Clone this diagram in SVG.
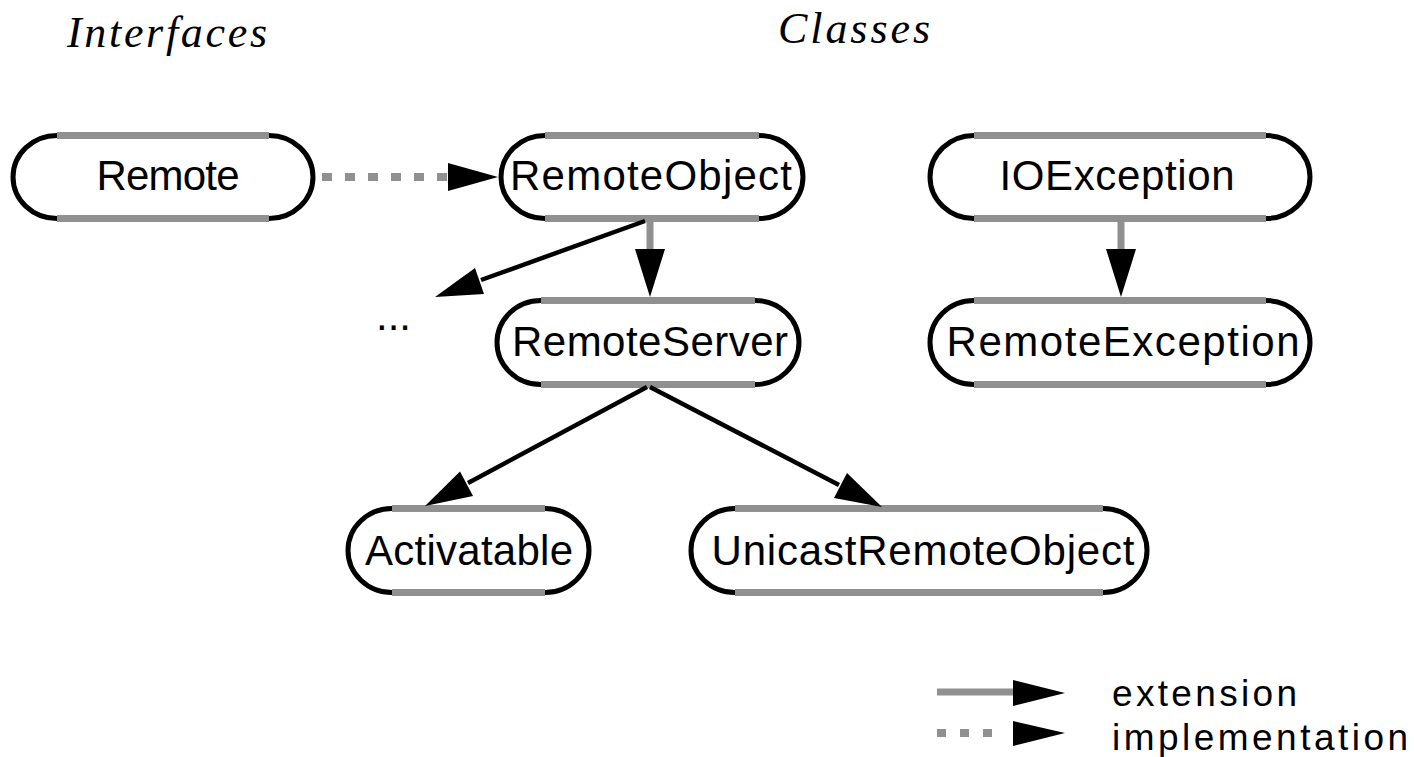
<svg xmlns="http://www.w3.org/2000/svg" width="1414" height="757" viewBox="0 0 1414 757">
<defs>
<style>
.bg{fill:#ffffff}
.fill{fill:#ffffff;stroke:none}
.edge{fill:none;stroke:#909090;stroke-width:7}
.end{fill:none;stroke:#000000;stroke-width:5}
.lbl{font-family:"Liberation Sans",Arial,sans-serif;font-size:42px;fill:#000000;text-anchor:middle}
.title{font-family:"Liberation Serif","Times New Roman",serif;font-style:italic;font-size:44px;fill:#000000}
.leg{font-family:"Liberation Sans",Arial,sans-serif;font-size:37px;fill:#000000}
.dots{font-family:"Liberation Sans",Arial,sans-serif;font-size:42px;fill:#000000}
.ext{stroke:#909090;stroke-width:7;fill:none}
.impl{stroke:#909090;stroke-width:8;fill:none;stroke-dasharray:10 13}
.diag{stroke:#000000;stroke-width:4.5;fill:none}
.head{fill:#000000;stroke:none}
</style>
</defs>
<rect class="bg" x="0" y="0" width="1414" height="757"/>
<g id="titles">
<text class="title" x="67" y="47" textLength="200">Interfaces</text>
<text class="title" x="778" y="43" textLength="152">Classes</text>
</g>
<g id="node-remote">
<path class="fill" d="M57,135.5 H269 A44,41.5 0 0 1 269,218.5 H57 A44,41.5 0 0 1 57,135.5 Z"/>
<path class="edge" d="M57,135.5 H269 M57,218.5 H269"/>
<path class="end" d="M57,135.5 A44,41.5 0 0 0 57,218.5 M269,135.5 A44,41.5 0 0 1 269,218.5"/>
<text class="lbl" x="168" y="190" textLength="143">Remote</text>
</g>
<g id="node-remoteobject">
<path class="fill" d="M545,135.5 H759 A44,41.5 0 0 1 759,218.5 H545 A44,41.5 0 0 1 545,135.5 Z"/>
<path class="edge" d="M545,135.5 H759 M545,218.5 H759"/>
<path class="end" d="M545,135.5 A44,41.5 0 0 0 545,218.5 M759,135.5 A44,41.5 0 0 1 759,218.5"/>
<text class="lbl" x="651" y="190" textLength="282">RemoteObject</text>
</g>
<g id="node-ioexception">
<path class="fill" d="M974,135.5 H1266 A44,41.5 0 0 1 1266,218.5 H974 A44,41.5 0 0 1 974,135.5 Z"/>
<path class="edge" d="M974,135.5 H1266 M974,218.5 H1266"/>
<path class="end" d="M974,135.5 A44,41.5 0 0 0 974,218.5 M1266,135.5 A44,41.5 0 0 1 1266,218.5"/>
<text class="lbl" x="1117" y="190" textLength="235">IOException</text>
</g>
<g id="node-remoteserver">
<path class="fill" d="M541,300.5 H755 A44,42 0 0 1 755,384.5 H541 A44,42 0 0 1 541,300.5 Z"/>
<path class="edge" d="M541,300.5 H755 M541,384.5 H755"/>
<path class="end" d="M541,300.5 A44,42 0 0 0 541,384.5 M755,300.5 A44,42 0 0 1 755,384.5"/>
<text class="lbl" x="650" y="356" textLength="276">RemoteServer</text>
</g>
<g id="node-remoteexception">
<path class="fill" d="M974,300.5 H1266 A44,42 0 0 1 1266,384.5 H974 A44,42 0 0 1 974,300.5 Z"/>
<path class="edge" d="M974,300.5 H1266 M974,384.5 H1266"/>
<path class="end" d="M974,300.5 A44,42 0 0 0 974,384.5 M1266,300.5 A44,42 0 0 1 1266,384.5"/>
<text class="lbl" x="1123" y="356" textLength="353">RemoteException</text>
</g>
<g id="node-activatable">
<path class="fill" d="M392,508.5 H545 A44,42 0 0 1 545,592.5 H392 A44,42 0 0 1 392,508.5 Z"/>
<path class="edge" d="M392,508.5 H545 M392,592.5 H545"/>
<path class="end" d="M392,508.5 A44,42 0 0 0 392,592.5 M545,508.5 A44,42 0 0 1 545,592.5"/>
<text class="lbl" x="469" y="565" textLength="208">Activatable</text>
</g>
<g id="node-unicastremoteobject">
<path class="fill" d="M735,508.5 H1103 A44,42 0 0 1 1103,592.5 H735 A44,42 0 0 1 735,508.5 Z"/>
<path class="edge" d="M735,508.5 H1103 M735,592.5 H1103"/>
<path class="end" d="M735,508.5 A44,42 0 0 0 735,592.5 M1103,508.5 A44,42 0 0 1 1103,592.5"/>
<text class="lbl" x="923" y="565" textLength="423">UnicastRemoteObject</text>
</g>
<g id="node-ellipsis">
<text class="dots" x="376" y="330">...</text>
</g>
<g id="connectors">
<line class="impl" x1="322" y1="177" x2="448" y2="177"/>
<polygon class="head" points="448,163 498,177 448,191"/>
<line class="ext" x1="650" y1="222" x2="650" y2="252"/>
<polygon class="head" points="635,249 665,249 650,297"/>
<line class="ext" x1="1121" y1="222" x2="1121" y2="252"/>
<polygon class="head" points="1106,249 1136,249 1121,297"/>
<line class="diag" x1="645" y1="221" x2="481" y2="280"/>
<polygon class="head" points="435,297 484,294 475,268"/>
<line class="diag" x1="647" y1="387" x2="468" y2="483"/>
<polygon class="head" points="425,506 473,496 460,471.5"/>
<line class="diag" x1="650" y1="387" x2="839" y2="485"/>
<polygon class="head" points="882,507 834,498 847,473"/>
</g>
<g id="legend">
<line class="ext" x1="937" y1="692" x2="1016" y2="692"/>
<polygon class="head" points="1013,680 1065,693 1013,706"/>
<line class="impl" x1="937" y1="733" x2="1000" y2="733" style="stroke-dasharray:9 14"/>
<polygon class="head" points="1013,721 1065,733 1013,746"/>
<text class="leg" x="1112" y="706" textLength="185">extension</text>
<text class="leg" x="1112" y="750" textLength="296">implementation</text>
</g>
</svg>
